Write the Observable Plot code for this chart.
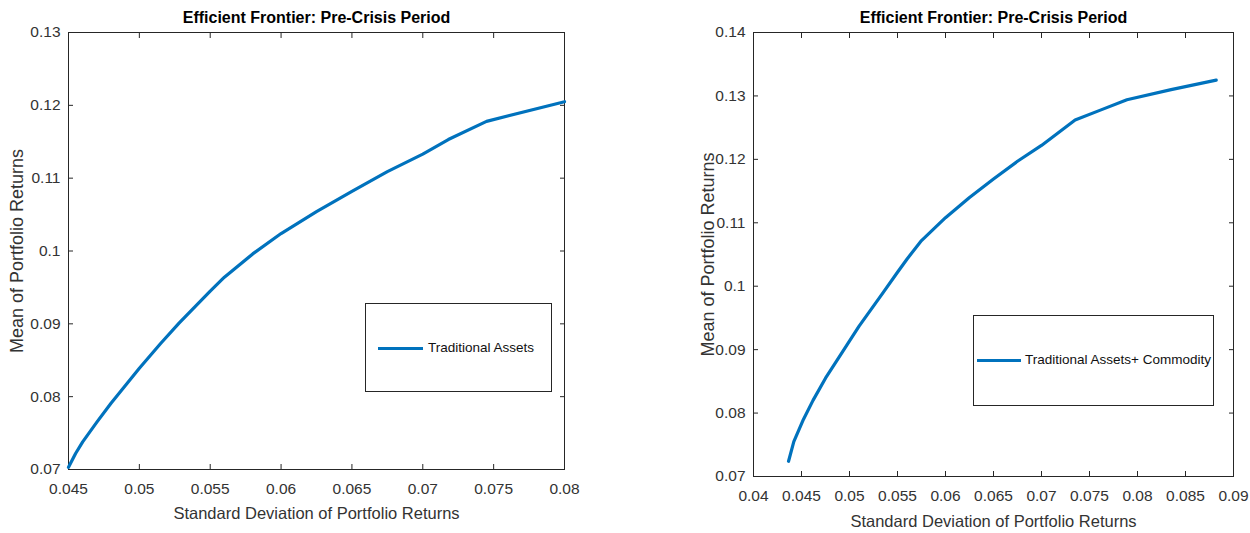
<!DOCTYPE html>
<html>
<head>
<meta charset="utf-8">
<script src="https://cdn.jsdelivr.net/npm/d3@7"></script>
<script src="https://cdn.jsdelivr.net/npm/@observablehq/plot@0.6"></script>
<style>
  html, body { margin: 0; padding: 0; background: #fff; }
  #wrap { position: relative; width: 1250px; height: 533px; font-family: "Liberation Sans", Arial, sans-serif; }
  .panel { position: absolute; top: 0; }
  .legend { position: absolute; border: 1px solid #262626; background: #fff; box-sizing: border-box; }
  .legend .sw { position: absolute; height: 3px; background: #0072BD; }
  .legend .lt { position: absolute; font-size: 13.5px; color: #111; white-space: nowrap; line-height: 1; }
</style>
</head>
<body>
<div id="wrap"></div>
<script>
// ---- data ----
const chartTitle = "Efficient Frontier: Pre-Crisis Period";
const xLabel = "Standard Deviation of Portfolio Returns";
const yLabel = "Mean of Portfolio Returns";

const leftSeriesName = "Traditional Assets";
const leftSd   = [0.0450, 0.0455, 0.0460, 0.0470, 0.0480, 0.0490, 0.0500, 0.0515, 0.0528, 0.0550, 0.0560, 0.0580, 0.0600, 0.0625, 0.0650, 0.0675, 0.0700, 0.0718, 0.0745, 0.0800];
const leftMean = [0.0703, 0.0722, 0.0738, 0.0765, 0.0791, 0.0815, 0.0839, 0.0873, 0.0901, 0.0945, 0.0964, 0.0996, 0.1024, 0.1054, 0.1082, 0.1109, 0.1133, 0.1153, 0.1178, 0.1205];
const leftXTicks = [0.045, 0.05, 0.055, 0.06, 0.065, 0.07, 0.075, 0.08];
const leftYTicks = [0.07, 0.08, 0.09, 0.1, 0.11, 0.12, 0.13];

const rightSeriesName = "Traditional Assets+ Commodity";
const rightSd   = [0.04365, 0.0442, 0.0452, 0.0462, 0.0475, 0.0490, 0.0510, 0.0535, 0.0550, 0.0560, 0.0575, 0.0600, 0.0625, 0.0650, 0.0675, 0.0700, 0.0735, 0.0762, 0.0789, 0.0835, 0.0882];
const rightMean = [0.0724, 0.0755, 0.0790, 0.0820, 0.0855, 0.0890, 0.0937, 0.0990, 0.1022, 0.1043, 0.1072, 0.1108, 0.1140, 0.1169, 0.1197, 0.1222, 0.1262, 0.1278, 0.1294, 0.1310, 0.1325];
const rightXTicks = [0.04, 0.045, 0.05, 0.055, 0.06, 0.065, 0.07, 0.075, 0.08, 0.085, 0.09];
const rightYTicks = [0.07, 0.08, 0.09, 0.1, 0.11, 0.12, 0.13, 0.14];

// ---- drawing ----
const fmt = d => String(+d.toFixed(4));
const axisColor = "#262626";
const lineColor = "#0072BD";

function panel({sd, mean, xTicks, yTicks, ml, mr, mt, mb, yLabelDx, xLabelDy}) {
  const data = sd.map((s, i) => ({sd: s, mean: mean[i]}));
  const xd = [xTicks[0], xTicks[xTicks.length - 1]];
  const yd = [yTicks[0], yTicks[yTicks.length - 1]];
  return Plot.plot({
    width: 625, height: 533,
    marginLeft: ml, marginRight: mr, marginTop: mt, marginBottom: mb,
    style: {fontFamily: '"Liberation Sans", Arial, sans-serif', fontSize: "15.5px", color: axisColor, background: "transparent", overflow: "visible"},
    x: {domain: xd},
    y: {domain: yd},
    marks: [
      // tick labels
      Plot.axisX({ticks: xTicks, tickSize: 0, tickPadding: 13, tickFormat: fmt, label: null, fill: "#333"}),
      Plot.axisY({ticks: yTicks, tickSize: 0, tickPadding: 8, tickFormat: fmt, label: null, fill: "#333"}),
      // inward ticks on all four sides
      Plot.axisX({anchor: "bottom", ticks: xTicks, tickSize: 5, dy: -5, tickFormat: () => "", label: null, stroke: axisColor}),
      Plot.axisX({anchor: "top", ticks: xTicks, tickSize: 5, dy: 5, tickFormat: () => "", label: null, stroke: axisColor}),
      Plot.axisY({anchor: "left", ticks: yTicks, tickSize: 5, dx: 5, tickFormat: () => "", label: null, stroke: axisColor}),
      Plot.axisY({anchor: "right", ticks: yTicks, tickSize: 5, dx: -5, tickFormat: () => "", label: null, stroke: axisColor}),
      Plot.frame({stroke: axisColor, strokeWidth: 1}),
      Plot.line(data, {x: "sd", y: "mean", stroke: lineColor, strokeWidth: 3.2}),
      // title and axis labels
      Plot.text([chartTitle], {frameAnchor: "top", dy: -15, fontWeight: "bold", fontSize: 16, fill: "#000", lineAnchor: "middle"}),
      Plot.text([xLabel], {frameAnchor: "bottom", dy: xLabelDy, fontSize: 16.5, fill: "#333", lineAnchor: "middle"}),
      Plot.text([yLabel], {frameAnchor: "left", dx: yLabelDx, rotate: -90, textAnchor: "middle", fontSize: 18, fill: "#333", lineAnchor: "middle"})
    ]
  });
}

const wrap = document.getElementById("wrap");

const left = panel({sd: leftSd, mean: leftMean, xTicks: leftXTicks, yTicks: leftYTicks,
  ml: 68, mr: 61, mt: 32, mb: 64, yLabelDx: -51, xLabelDy: 44});
const leftDiv = document.createElement("div");
leftDiv.className = "panel"; leftDiv.style.left = "0px";
leftDiv.appendChild(left); wrap.appendChild(leftDiv);

const right = panel({sd: rightSd, mean: rightMean, xTicks: rightXTicks, yTicks: rightYTicks,
  ml: 128, mr: 17, mt: 32, mb: 57, yLabelDx: -45, xLabelDy: 45});
const rightDiv = document.createElement("div");
rightDiv.className = "panel"; rightDiv.style.left = "625px";
rightDiv.appendChild(right); wrap.appendChild(rightDiv);

function legend(x, y, w, h, swX, swW, swY, textX, label) {
  const box = document.createElement("div");
  box.className = "legend";
  Object.assign(box.style, {left: x + "px", top: y + "px", width: w + "px", height: h + "px"});
  const sw = document.createElement("div");
  sw.className = "sw";
  Object.assign(sw.style, {left: (swX - x - 1) + "px", top: (swY - y - 2) + "px", width: swW + "px"});
  const t = document.createElement("div");
  t.className = "lt";
  t.textContent = label;
  Object.assign(t.style, {left: (textX - x - 1) + "px", top: (swY - y - 8) + "px"});
  box.appendChild(sw); box.appendChild(t);
  wrap.appendChild(box);
}
legend(365, 303, 187, 89, 378, 45, 348, 428, leftSeriesName);
legend(973, 315, 241, 91, 977, 44, 360, 1025, rightSeriesName);
</script>
</body>
</html>
